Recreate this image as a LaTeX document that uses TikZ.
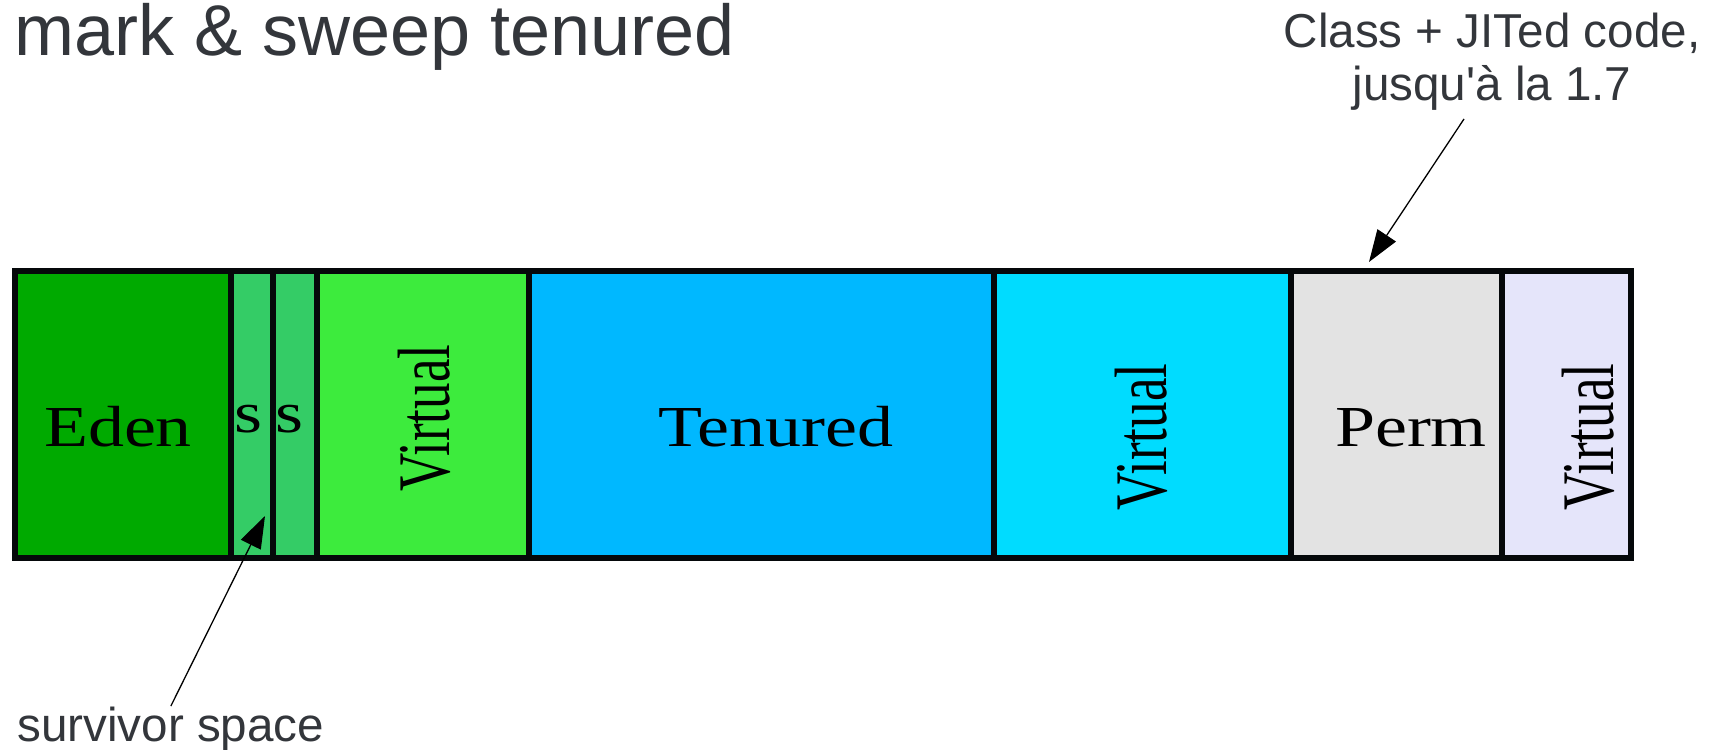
\documentclass[tikz,border=0pt]{standalone}
\usepackage{fontspec}
\usepackage{graphicx}
\usetikzlibrary{arrows.meta}
\newfontfamily\labsans{Liberation Sans}
\newfontfamily\labserif{Liberation Serif}
\definecolor{txtgray}{RGB}{51,54,59}
\definecolor{barline}{RGB}{5,8,10}
\definecolor{edencol}{RGB}{0,170,0}
\definecolor{survcol}{RGB}{52,204,102}
\definecolor{virtgreen}{RGB}{61,235,61}
\definecolor{tenuredcol}{RGB}{0,184,255}
\definecolor{virtcyan}{RGB}{0,220,255}
\definecolor{permcol}{RGB}{227,227,227}
\definecolor{virtlav}{RGB}{229,229,250}
\newcommand\hstretch[1]{\scalebox{1.24}[1]{#1}}
\newcommand\vthick[1]{\scalebox{1}[1.4]{#1}}
\begin{document}
\begin{tikzpicture}[x=0.5pt,y=-0.5pt,
  cell/.style={draw=barline, line width=3.2pt, inner sep=0pt, outer sep=0pt, minimum height=143.5pt},
  sanslab/.style={text=txtgray, inner sep=0pt, font=\labsans\fontsize{23.8}{27}\selectfont},
  titlelab/.style={text=txtgray, inner sep=0pt, font=\labsans\fontsize{36}{40}\selectfont},
  serlab/.style={text=black, inner sep=0pt, font=\labserif\fontsize{29}{32}\selectfont},
  virtlab/.style={text=black, inner sep=0pt, rotate=90, font=\labserif\fontsize{26.5}{30}\selectfont},
  ptr/.style={draw=black, line width=0.65pt, -{Triangle[length=16pt,width=11pt]}}]
\useasboundingbox (0,0) rectangle (1720,750);

% title
\node[titlelab, anchor=base west] (title) at (14,55) {mark \& sweep tenured};

% bar cells
\node[cell, fill=edencol, minimum width=108pt] (eden) at (123,414.5) {};
\node[cell, fill=survcol, minimum width=21pt] (s1) at (252,414.5) {};
\node[cell, fill=survcol, minimum width=22pt] (s2) at (295,414.5) {};
\node[cell, fill=virtgreen, minimum width=106pt] (v1) at (423,414.5) {};
\node[cell, fill=tenuredcol, minimum width=232.5pt] (ten) at (761.5,414.5) {};
\node[cell, fill=virtcyan, minimum width=148.5pt] (v2) at (1142.5,414.5) {};
\node[cell, fill=permcol, minimum width=105.5pt] (perm) at (1396.5,414.5) {};
\node[cell, fill=virtlav, minimum width=64.5pt] (v3) at (1566.5,414.5) {};

% cell labels
\node[serlab, anchor=base] (edenlbl) at (118,446) {\hstretch{Eden}};
\node[serlab, anchor=base] (s1lbl) at (248,432) {\hstretch{s}};
\node[serlab, anchor=base] (s2lbl) at (289.5,432) {\hstretch{s}};
\node[virtlab] (v1lbl) at (424,418) {\vthick{Virtual}};
\node[serlab, anchor=base] (tenlbl) at (776,446) {\hstretch{Tenured}};
\node[virtlab] (v2lbl) at (1141,437) {\vthick{Virtual}};
\node[serlab, anchor=base] (permlbl) at (1411,446) {\hstretch{Perm}};
\node[virtlab] (v3lbl) at (1588,437) {\vthick{Virtual}};

% annotations
\node[sanslab, anchor=base] (classa) at (1492,47) {Class + JITed code,};
\node[sanslab, anchor=base] (classb) at (1492,100) {jusqu'à la 1.7};
\node[sanslab, anchor=base west] (surv) at (17,741) {survivor space};

\coordinate (csrc) at (1464,119);
\coordinate (ctip) at (1369,262);
\coordinate (stip) at (265,516);

\draw[ptr] (csrc) -- (ctip);
\draw[ptr] (surv.north) -- (stip);
\end{tikzpicture}
\end{document}
